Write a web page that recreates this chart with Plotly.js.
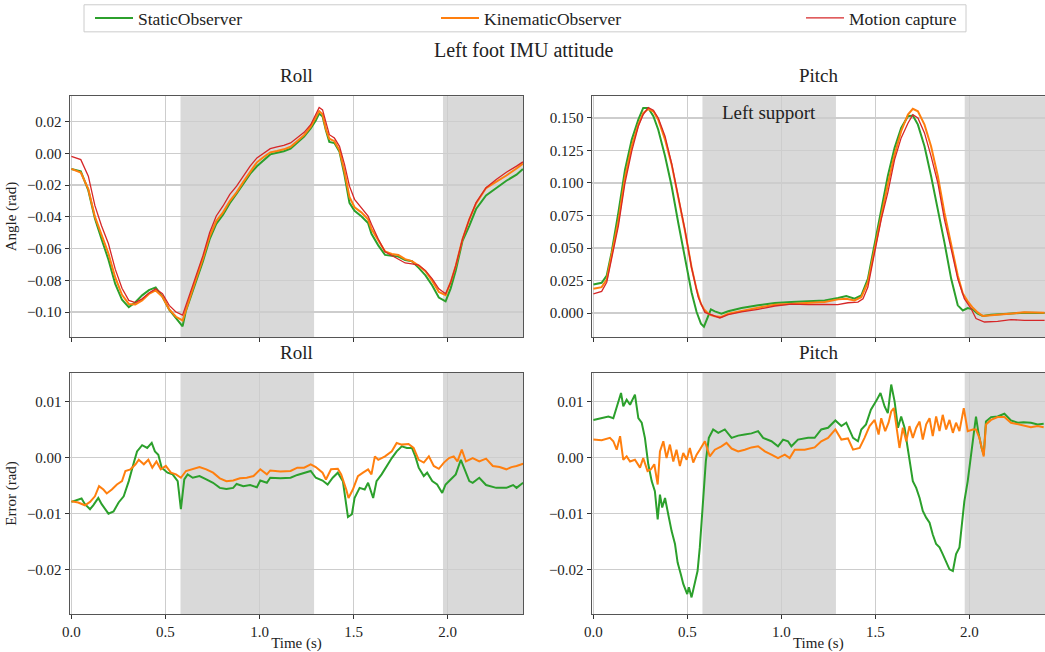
<!DOCTYPE html>
<html>
<head>
<meta charset="utf-8">
<script src="https://cdn.plot.ly/plotly-3.0.1.min.js"></script>
<style>html,body{margin:0;padding:0;background:#fff;}#chart{width:1045px;height:652px;}</style>
</head>
<body>
<div id="chart"></div>
<script>
// ---------- data ----------
const seriesNames = ["StaticObserver", "KinematicObserver", "Motion capture"];
const seriesColors = ["#2ca02c", "#ff7f0e", "#d62728"];
const supportStart = [0.58, 1.975];
const supportEnd = [1.29, 2.6];

// Top-left: Roll angle
const tRoll = [0, 0.05, 0.09, 0.125, 0.16, 0.197, 0.233, 0.269, 0.305, 0.34,
  0.376, 0.412, 0.448, 0.484, 0.52, 0.556, 0.591, 0.609, 0.645, 0.699,
  0.735, 0.77, 0.806, 0.842, 0.878, 0.914, 0.95, 0.986, 1.022, 1.057,
  1.093, 1.129, 1.165, 1.2, 1.237, 1.272, 1.299, 1.317, 1.335, 1.353,
  1.371, 1.398, 1.425, 1.452, 1.478, 1.505, 1.541, 1.577, 1.595, 1.631,
  1.667, 1.703, 1.738, 1.774, 1.81, 1.846, 1.882, 1.918, 1.953, 1.989,
  2.016, 2.043, 2.079, 2.115, 2.151, 2.204, 2.258, 2.312, 2.366, 2.4];
const mocapRoll = [-0.002, -0.004, -0.0144, -0.033, -0.0457, -0.057, -0.073, -0.085, -0.0927, -0.094,
  -0.0917, -0.088, -0.0854, -0.0885, -0.0958, -0.100, -0.102, -0.0958, -0.0833, -0.0645,
  -0.0499, -0.0395, -0.0332, -0.0259, -0.0207, -0.0144, -0.0081, -0.0029, 0.0002, 0.0029,
  0.004, 0.005, 0.0065, 0.0096, 0.0132, 0.018, 0.0242, 0.0288, 0.0273, 0.019,
  0.0117, 0.0096, 0.0044, -0.0071, -0.0207, -0.029, -0.0342, -0.0395, -0.0447, -0.054,
  -0.062, -0.0645, -0.0666, -0.0691, -0.0697, -0.0704, -0.0739, -0.0791, -0.0854, -0.0885,
  -0.0812, -0.0708, -0.054, -0.0415, -0.0311, -0.0217, -0.0165, -0.0119, -0.0081, -0.0054];
const kinematicRoll = [-0.0098, -0.0122, -0.0226, -0.0399, -0.0512, -0.0632, -0.0782, -0.0892, -0.0949, -0.0952,
  -0.0927, -0.0886, -0.0864, -0.0904, -0.0983, -0.103, -0.1053, -0.0982, -0.0854, -0.0664,
  -0.0523, -0.0427, -0.0372, -0.0301, -0.0246, -0.018, -0.0116, -0.0057, -0.0023, 0.0006,
  0.0015, 0.0025, 0.0041, 0.0078, 0.0114, 0.0168, 0.0225, 0.0266, 0.0246, 0.0151,
  0.0092, 0.0076, 0.0019, -0.0116, -0.0275, -0.034, -0.0372, -0.0416, -0.0477, -0.0544,
  -0.0618, -0.0634, -0.0641, -0.0667, -0.0679, -0.0708, -0.0743, -0.0804, -0.0874, -0.0893,
  -0.0812, -0.0708, -0.054, -0.0417, -0.0316, -0.0219, -0.0181, -0.014, -0.0096, -0.0065];
const staticRoll = [-0.0099, -0.0114, -0.0234, -0.041, -0.054, -0.067, -0.0823, -0.0923, -0.0969, -0.0938,
  -0.0895, -0.0862, -0.0845, -0.0904, -0.0985, -0.1038, -0.109, -0.0991, -0.0869, -0.0681,
  -0.0541, -0.0445, -0.0387, -0.0314, -0.0254, -0.0195, -0.013, -0.0082, -0.0041, -0.0007,
  0.0003, 0.0013, 0.0029, 0.0065, 0.0105, 0.0156, 0.0206, 0.025, 0.0232, 0.0144,
  0.0072, 0.0064, 0.0009, -0.0141, -0.0312, -0.0362, -0.0397, -0.044, -0.0507, -0.058,
  -0.064, -0.0646, -0.0651, -0.0673, -0.068, -0.0722, -0.0769, -0.0833, -0.0909, -0.0933,
  -0.0851, -0.0738, -0.0552, -0.0457, -0.0351, -0.0266, -0.0219, -0.0173, -0.0135, -0.0099];

// Top-right: Pitch angle
const tPitchObs = [0, 0.044, 0.071, 0.097, 0.133, 0.168, 0.204, 0.239, 0.265, 0.292,
  0.319, 0.345, 0.381, 0.416, 0.451, 0.487, 0.522, 0.549, 0.572, 0.588,
  0.607, 0.625, 0.646, 0.681, 0.717, 0.788, 0.876, 0.965, 1.053, 1.142,
  1.23, 1.301, 1.345, 1.389, 1.425, 1.46, 1.496, 1.531, 1.566, 1.602,
  1.637, 1.673, 1.699, 1.726, 1.761, 1.796, 1.832, 1.867, 1.903, 1.938,
  1.965, 1.991, 2.018, 2.044, 2.071, 2.115, 2.204, 2.292, 2.4];
const staticPitch = [0.022, 0.0232, 0.0288, 0.0467, 0.0773, 0.110, 0.1334, 0.1487, 0.1577, 0.1577,
  0.1513, 0.141, 0.1207, 0.0977, 0.0696, 0.0416, 0.016, 0.0008, -0.0082, -0.0105,
  -0.0043, 0.0028, 0.0013, -0.0005, 0.0013, 0.0038, 0.0059, 0.0077, 0.0084, 0.0089,
  0.0097, 0.0115, 0.013, 0.011, 0.0135, 0.0263, 0.0531, 0.0786, 0.1054, 0.127,
  0.1423, 0.1513, 0.1518, 0.1449, 0.1283, 0.1054, 0.0798, 0.0543, 0.0263, 0.0059,
  0.002, 0.0038, 0.0028, -0.0005, -0.0023, -0.0013, -0.0005, 0.0003, 0.0];
const kinematicPitch = [0.0186, 0.0199, 0.0258, 0.0436, 0.0709, 0.1041, 0.1283, 0.1449, 0.1538, 0.1569,
  0.1551, 0.1487, 0.1334, 0.1143, 0.090, 0.0633, 0.0352, 0.018, 0.007, 0.003,
  0.0, -0.0015, -0.0025, -0.003, -0.0005, 0.0018, 0.0041, 0.0064, 0.0071, 0.0079,
  0.0084, 0.0105, 0.011, 0.0097, 0.0122, 0.0237, 0.0492, 0.0747, 0.099, 0.1219,
  0.1398, 0.1526, 0.1571, 0.1551, 0.1449, 0.1283, 0.1054, 0.0773, 0.0518, 0.0288,
  0.015, 0.009, 0.004, 0.0005, -0.0023, -0.0018, -0.0003, 0.0005, 0.0003];
const tPitchMocap = [0, 0.044, 0.071, 0.097, 0.133, 0.168, 0.204, 0.239, 0.265, 0.292,
  0.319, 0.345, 0.381, 0.416, 0.451, 0.487, 0.522, 0.558, 0.593, 0.628,
  0.673, 0.717, 0.788, 0.876, 0.965, 1.053, 1.142, 1.23, 1.30, 1.354,
  1.407, 1.434, 1.46, 1.496, 1.531, 1.566, 1.602, 1.637, 1.673, 1.699,
  1.726, 1.761, 1.796, 1.832, 1.867, 1.903, 1.938, 1.973, 2.009, 2.035,
  2.08, 2.15, 2.221, 2.292, 2.4];
const mocapPitch = [0.0148, 0.0166, 0.0237, 0.0416, 0.067, 0.100, 0.1245, 0.1436, 0.1526, 0.158,
  0.156, 0.150, 0.136, 0.115, 0.090, 0.064, 0.035, 0.012, 0.0005, -0.0013,
  -0.0038, -0.0013, 0.0008, 0.0028, 0.0054, 0.0069, 0.0064, 0.0066, 0.0064, 0.0079,
  0.0084, 0.011, 0.020, 0.0467, 0.072, 0.0926, 0.118, 0.1347, 0.146, 0.1526,
  0.150, 0.1385, 0.1207, 0.100, 0.072, 0.0492, 0.0263, 0.011, 0.0033, -0.0043,
  -0.0069, -0.0064, -0.0051, -0.0056, -0.0056];

// Bottom-left: Roll error
const tRollErrStatic = [0, 0.027, 0.054, 0.072, 0.099, 0.116, 0.143, 0.161, 0.197, 0.224,
  0.251, 0.278, 0.305, 0.332, 0.349, 0.376, 0.403, 0.427, 0.444, 0.462,
  0.48, 0.511, 0.538, 0.565, 0.582, 0.6, 0.618, 0.645, 0.681, 0.717,
  0.753, 0.789, 0.824, 0.86, 0.878, 0.914, 0.95, 0.986, 1.004, 1.039,
  1.057, 1.111, 1.165, 1.201, 1.237, 1.272, 1.299, 1.335, 1.362, 1.389,
  1.416, 1.443, 1.47, 1.491, 1.505, 1.532, 1.559, 1.577, 1.604, 1.622,
  1.649, 1.676, 1.703, 1.729, 1.756, 1.783, 1.81, 1.828, 1.846, 1.873,
  1.891, 1.918, 1.944, 1.971, 1.989, 2.016, 2.043, 2.07, 2.088, 2.115,
  2.133, 2.168, 2.204, 2.258, 2.312, 2.348, 2.366, 2.401];
const rollErrStatic = [-0.0079, -0.0076, -0.0073, -0.0083, -0.0092, -0.0085, -0.0072, -0.0083, -0.010, -0.0096,
  -0.008, -0.0069, -0.0042, -0.0009, 0.0011, 0.0022, 0.0017, 0.0026, 0.0011, 0.0005,
  -0.0018, -0.0027, -0.003, -0.0042, -0.0092, -0.0039, -0.003, -0.0036, -0.0033, -0.0039,
  -0.0045, -0.0054, -0.0056, -0.0054, -0.0047, -0.0051, -0.0049, -0.0053, -0.0041, -0.0045,
  -0.0036, -0.0037, -0.0036, -0.0031, -0.0027, -0.0024, -0.0036, -0.0041, -0.0048, -0.0036,
  -0.0027, -0.0042, -0.0106, -0.0101, -0.0072, -0.0054, -0.0057, -0.0045, -0.0072, -0.0042,
  -0.003, -0.0015, -0.0001, 0.0011, 0.002, 0.0017, 0.0017, 0.0002, -0.0018, -0.0033,
  -0.0027, -0.0042, -0.0048, -0.0063, -0.0048, -0.0039, -0.003, -0.0004, -0.0018, -0.0042,
  -0.0045, -0.0036, -0.0049, -0.0054, -0.0054, -0.0049, -0.0054, -0.0045];
const tRollErrKin = [0, 0.036, 0.072, 0.099, 0.125, 0.147, 0.17, 0.188, 0.215, 0.242,
  0.269, 0.287, 0.314, 0.341, 0.358, 0.385, 0.409, 0.43, 0.452, 0.475,
  0.502, 0.529, 0.556, 0.582, 0.609, 0.645, 0.681, 0.717, 0.753, 0.789,
  0.824, 0.86, 0.896, 0.932, 0.968, 1.004, 1.039, 1.057, 1.111, 1.165,
  1.201, 1.237, 1.272, 1.299, 1.335, 1.353, 1.38, 1.416, 1.434, 1.461,
  1.473, 1.496, 1.523, 1.55, 1.577, 1.595, 1.613, 1.631, 1.667, 1.703,
  1.729, 1.756, 1.792, 1.819, 1.846, 1.873, 1.9, 1.926, 1.953, 1.98,
  2.007, 2.032, 2.052, 2.075, 2.097, 2.133, 2.168, 2.204, 2.24, 2.276,
  2.312, 2.339, 2.366, 2.401];
const rollErrKin = [-0.0078, -0.008, -0.0085, -0.0079, -0.0069, -0.0051, -0.0057, -0.0064, -0.0057, -0.0048,
  -0.0042, -0.0024, -0.0021, -0.0012, -0.0004, -0.0012, -0.0004, -0.0018, -0.0007, -0.0021,
  -0.0015, -0.0027, -0.003, -0.0036, -0.0024, -0.0021, -0.0017, -0.0021, -0.0027, -0.0037,
  -0.0042, -0.0041, -0.0037, -0.0036, -0.0033, -0.0021, -0.003, -0.0023, -0.0025, -0.0024,
  -0.0018, -0.0018, -0.0012, -0.0017, -0.0027, -0.0039, -0.0021, -0.002, -0.003, -0.0057,
  -0.0072, -0.0057, -0.0033, -0.0027, -0.0021, -0.003, 0.0002, -0.0004, 0.0002, 0.0011,
  0.0026, 0.0023, 0.0024, 0.0017, -0.0004, -0.0009, 0.0002, -0.0015, -0.002, -0.0009,
  -0.0001, 0.0002, -0.0007, 0.0014, -0.0007, -0.0001, -0.0007, -0.0002, -0.0015, -0.0017,
  -0.0021, -0.0017, -0.0015, -0.0011];

// Bottom-right: Pitch error
const tPitchErrStatic = [0, 0.044, 0.08, 0.106, 0.124, 0.147, 0.159, 0.177, 0.195, 0.221,
  0.239, 0.257, 0.274, 0.292, 0.31, 0.327, 0.342, 0.354, 0.366, 0.381,
  0.398, 0.416, 0.434, 0.448, 0.465, 0.478, 0.499, 0.508, 0.522, 0.54,
  0.554, 0.566, 0.584, 0.598, 0.614, 0.637, 0.664, 0.699, 0.735, 0.77,
  0.805, 0.841, 0.876, 0.903, 0.947, 0.982, 1.009, 1.035, 1.053, 1.088,
  1.142, 1.177, 1.212, 1.248, 1.287, 1.319, 1.345, 1.381, 1.407, 1.425,
  1.45, 1.476, 1.503, 1.527, 1.549, 1.566, 1.584, 1.602, 1.62, 1.637,
  1.655, 1.681, 1.699, 1.717, 1.735, 1.752, 1.77, 1.788, 1.805, 1.823,
  1.841, 1.858, 1.876, 1.894, 1.912, 1.929, 1.947, 1.959, 1.973, 1.991,
  2.009, 2.027, 2.035, 2.048, 2.065, 2.076, 2.088, 2.115, 2.15, 2.186,
  2.221, 2.257, 2.288, 2.327, 2.363, 2.395];
const pitchErrStatic = [0.0067, 0.007, 0.0073, 0.007, 0.0088, 0.0115, 0.0091, 0.0103, 0.0094, 0.0112,
  0.007, 0.0062, 0.0035, -0.0012, -0.0042, -0.006, -0.011, -0.0066, -0.0089, -0.0072,
  -0.0101, -0.0131, -0.0154, -0.0187, -0.0208, -0.0225, -0.0243, -0.0231, -0.0249, -0.022,
  -0.0202, -0.016, -0.0072, -0.0007, 0.0035, 0.005, 0.0044, 0.005, 0.0035, 0.0039,
  0.0041, 0.0043, 0.0047, 0.0035, 0.0029, 0.002, 0.0032, 0.0029, 0.002, 0.0032,
  0.0035, 0.0035, 0.005, 0.0053, 0.0066, 0.0056, 0.0062, 0.0035, 0.0029, 0.005,
  0.0059, 0.0085, 0.01, 0.0115, 0.0091, 0.0079, 0.013, 0.01, 0.0053, 0.0073,
  0.0053, -0.0001, -0.0042, -0.0054, -0.0072, -0.0095, -0.0107, -0.0116, -0.0137, -0.0154,
  -0.016, -0.0172, -0.0187, -0.0199, -0.0202, -0.0172, -0.016, -0.0125, -0.0078, -0.0042,
  0.0011, 0.0053, 0.0073, 0.0044, 0.0017, 0.0005, 0.0064, 0.0072, 0.0073, 0.0078,
  0.0066, 0.0062, 0.0063, 0.0062, 0.0059, 0.006];
const tPitchErrKin = [0, 0.044, 0.088, 0.106, 0.124, 0.142, 0.159, 0.177, 0.195, 0.221,
  0.248, 0.265, 0.288, 0.306, 0.324, 0.342, 0.354, 0.372, 0.389, 0.407,
  0.425, 0.442, 0.46, 0.478, 0.496, 0.513, 0.531, 0.549, 0.566, 0.593,
  0.619, 0.646, 0.681, 0.708, 0.735, 0.77, 0.805, 0.841, 0.876, 0.912,
  0.947, 0.982, 1.018, 1.044, 1.071, 1.124, 1.177, 1.212, 1.248, 1.287,
  1.319, 1.354, 1.381, 1.416, 1.442, 1.469, 1.496, 1.517, 1.531, 1.552,
  1.57, 1.584, 1.598, 1.611, 1.628, 1.646, 1.664, 1.681, 1.699, 1.717,
  1.735, 1.752, 1.77, 1.788, 1.805, 1.823, 1.841, 1.858, 1.876, 1.894,
  1.912, 1.929, 1.947, 1.97, 1.991, 2.018, 2.035, 2.053, 2.065, 2.076,
  2.088, 2.115, 2.15, 2.186, 2.221, 2.257, 2.288, 2.327, 2.363, 2.395];
const pitchErrKin = [0.0032, 0.0031, 0.0035, 0.0029, 0.0014, 0.0038, -0.0004, 0.0002, -0.0007, -0.0004,
  -0.0018, -0.0001, -0.0024, -0.0021, -0.0012, -0.0048, 0.0011, 0.0029, -0.0001, 0.0023,
  -0.0007, 0.0014, -0.0015, 0.0008, -0.0004, 0.0017, -0.0009, 0.0005, 0.0014, 0.0029,
  0.0002, 0.0014, 0.002, 0.0026, 0.0016, 0.0011, 0.0014, 0.0018, 0.002, 0.0011,
  0.0005, -0.0001, 0.0005, -0.0001, 0.0014, 0.0014, 0.0018, 0.0029, 0.0035, 0.005,
  0.0032, 0.0034, 0.0014, 0.0017, 0.0035, 0.0056, 0.0067, 0.0041, 0.007, 0.0047,
  0.0062, 0.0082, 0.0088, 0.0053, 0.0017, 0.0053, 0.0029, 0.0056, 0.0035, 0.0053,
  0.0064, 0.0032, 0.0059, 0.007, 0.0038, 0.0073, 0.0047, 0.0076, 0.005, 0.0067,
  0.0044, 0.0062, 0.0047, 0.0088, 0.0047, 0.005, 0.005, 0.0035, 0.0017, 0.0002,
  0.0059, 0.0067, 0.0072, 0.0072, 0.0062, 0.0059, 0.0056, 0.0054, 0.0056, 0.0054];

// ---------- figure ----------
const FONT = "Liberation Serif, Times New Roman, serif";
const W = 1045, H = 652;
const px = v => v / W;
const py = v => 1 - v / H;

function line(x, y, i, xa, ya, legendId, show) {
  return {
    x: x, y: y, type: "scatter", mode: "lines",
    name: seriesNames[i], xaxis: xa, yaxis: ya,
    line: { color: seriesColors[i], width: i === 2 ? 1.3 : 2 },
    legend: legendId, showlegend: show, hoverinfo: "skip"
  };
}

const traces = [
  line(tRoll, staticRoll, 0, "x", "y", "legend", true),
  line(tRoll, kinematicRoll, 1, "x", "y", "legend2", true),
  line(tRoll, mocapRoll, 2, "x", "y", "legend3", true),
  line(tPitchObs, staticPitch, 0, "x2", "y2", "legend", false),
  line(tPitchObs, kinematicPitch, 1, "x2", "y2", "legend2", false),
  line(tPitchMocap, mocapPitch, 2, "x2", "y2", "legend3", false),
  line(tRollErrStatic, rollErrStatic, 0, "x3", "y3", "legend", false),
  line(tRollErrKin, rollErrKin, 1, "x3", "y3", "legend2", false),
  line(tPitchErrStatic, pitchErrStatic, 0, "x4", "y4", "legend", false),
  line(tPitchErrKin, pitchErrKin, 1, "x4", "y4", "legend2", false)
];

const xRange = [-0.009, 2.402];
const leftDom = [px(69.7), px(523.3)];
const rightDom = [px(591.7), 1];
const topDom = [py(335), py(92.7)];
const botDom = [py(614), py(371)];
const tickFont = { family: FONT, size: 15, color: "#222" };

function xaxis(dom, anchor, labels) {
  return {
    domain: dom, anchor: anchor, range: xRange, tick0: 0, dtick: 0.5,
    tickformat: ".1f", showticklabels: labels, ticks: "outside", ticklen: 4,
    tickcolor: "#333", tickwidth: 1, showgrid: true, gridcolor: "#cdcdcd", gridwidth: 1.2,
    zeroline: false, showline: true, mirror: true, linecolor: "#555", linewidth: 1.1,
    tickfont: tickFont,
    title: labels ? { text: "Time (s)", font: { family: FONT, size: 15, color: "#222" }, standoff: 0 } : undefined
  };
}
function yaxis(dom, anchor, range, dtick, fmt, title) {
  return {
    domain: dom, anchor: anchor, range: range, tick0: 0, dtick: dtick,
    tickformat: fmt, ticks: "outside", ticklen: 4, tickcolor: "#333", tickwidth: 1,
    showgrid: true, gridcolor: "#cdcdcd", gridwidth: 1.2, zeroline: false,
    showline: true, mirror: true, linecolor: "#555", linewidth: 1.1,
    tickfont: tickFont,
    title: title ? { text: title, font: { family: FONT, size: 15, color: "#222" }, standoff: 6 } : undefined
  };
}

const shapes = [];
["x", "x2", "x3", "x4"].forEach((xr, k) => {
  const yr = ["y", "y2", "y3", "y4"][k];
  for (let i = 0; i < supportStart.length; i++) {
    shapes.push({
      type: "rect", xref: xr, yref: yr + " domain",
      x0: supportStart[i], x1: Math.min(supportEnd[i], xRange[1]), y0: 0, y1: 1,
      fillcolor: "#d9d9d9", line: { width: 0 }, layer: "below"
    });
  }
});
// legend frame
shapes.push({
  type: "rect", xref: "paper", yref: "paper",
  x0: px(84), x1: px(966), y0: py(28), y1: py(0.8),
  line: { color: "#cccccc", width: 1 }, fillcolor: "rgba(255,255,255,0)", layer: "below"
});

function legendAt(xPix) {
  return {
    x: px(xPix), xanchor: "left", y: py(14), yanchor: "middle",
    orientation: "h", bgcolor: "rgba(0,0,0,0)", borderwidth: 0,
    font: { family: FONT, size: 17.5, color: "#222" }, itemwidth: 38
  };
}

const annFont = { family: FONT, size: 19, color: "#222" };
const annotations = [
  { text: "Left foot IMU attitude", x: px(524), y: py(46), xref: "paper", yref: "paper", showarrow: false, font: { family: FONT, size: 20, color: "#222" }, xanchor: "center", yanchor: "middle" },
  { text: "Roll", x: (leftDom[0] + leftDom[1]) / 2, y: py(72), xref: "paper", yref: "paper", showarrow: false, font: annFont, xanchor: "center", yanchor: "middle" },
  { text: "Pitch", x: px(818.5), y: py(72), xref: "paper", yref: "paper", showarrow: false, font: annFont, xanchor: "center", yanchor: "middle" },
  { text: "Roll", x: (leftDom[0] + leftDom[1]) / 2, y: py(351), xref: "paper", yref: "paper", showarrow: false, font: annFont, xanchor: "center", yanchor: "middle" },
  { text: "Pitch", x: px(818.5), y: py(351), xref: "paper", yref: "paper", showarrow: false, font: annFont, xanchor: "center", yanchor: "middle" },
  { text: "Left support", x: (supportStart[0] + supportEnd[0]) / 2, y: 0.932, xref: "x2", yref: "y2 domain", showarrow: false, font: annFont, xanchor: "center", yanchor: "middle" }
];

const layout = {
  width: W, height: H, margin: { l: 0, r: 0, t: 0, b: 0 },
  paper_bgcolor: "#ffffff", plot_bgcolor: "#ffffff",
  font: { family: FONT, color: "#222" },
  showlegend: true,
  legend: legendAt(90),
  legend2: legendAt(436),
  legend3: legendAt(801),
  xaxis: xaxis(leftDom, "y", false),
  yaxis: yaxis(topDom, "x", [-0.1157, 0.036], 0.02, ".2f", "Angle (rad)"),
  xaxis2: xaxis(rightDom, "y2", false),
  yaxis2: yaxis(topDom, "x2", [-0.0184, 0.1668], 0.025, ".3f", null),
  xaxis3: xaxis(leftDom, "y3", true),
  yaxis3: yaxis(botDom, "x3", [-0.0279, 0.0151], 0.01, ".2f", "Error (rad)"),
  xaxis4: xaxis(rightDom, "y4", true),
  yaxis4: yaxis(botDom, "x4", [-0.0279, 0.0151], 0.01, ".2f", null),
  shapes: shapes,
  annotations: annotations
};

Plotly.newPlot("chart", traces, layout, { staticPlot: true, displayModeBar: false });
</script>
</body>
</html>
